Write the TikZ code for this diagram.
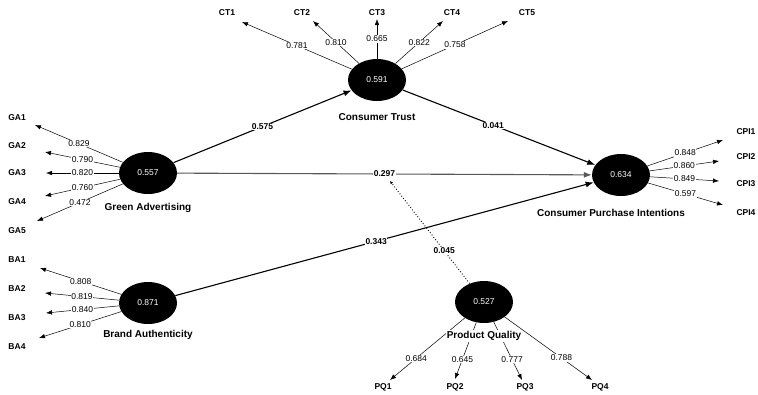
\documentclass[tikz,border=0pt]{standalone}
\usepackage{fontspec}
\setmainfont{Liberation Sans}
\usetikzlibrary{arrows.meta,shapes.geometric}
\begin{document}
\begin{tikzpicture}[x=1pt,y=-1pt,
 lv/.style={ellipse, fill=black, minimum width=58pt, minimum height=42pt, inner sep=0pt, text=white, font=\fontsize{8.5}{10}\selectfont},
 cname/.style={fill=white, inner sep=1pt, font=\bfseries\fontsize{10}{12}\selectfont},
 ind/.style={font=\bfseries\fontsize{8.5}{10}\selectfont},
 load/.style={draw=black, line width=0.5pt, -{Latex[length=6pt,width=4.5pt]}},
 ll/.style={fill=white, inner sep=0.6pt, font=\fontsize{8.5}{10}\selectfont},
 spath/.style={line width=1.1pt, -{Latex[length=8pt,width=6pt]}},
 pl/.style={fill=white, inner sep=0.6pt, font=\bfseries\fontsize{8.5}{10}\selectfont},
]
\clip (0,0) rectangle (758,394);
\fill[white] (0,0) rectangle (758,394);

% latent variables
\node[lv] (GA) at (148,173) {0.557};
\node[lv] (CT) at (377,80) {0.591};
\node[lv] (CPI) at (621,175) {0.634};
\node[lv] (BA) at (148,303) {0.871};
\node[lv] (PQ) at (484,302) {0.527};

% indicator texts
\node[ind] (ga1) at (17,118) {GA1};
\node[ind] (ga2) at (17,146) {GA2};
\node[ind] (ga3) at (17,173) {GA3};
\node[ind] (ga4) at (17,202) {GA4};
\node[ind] (ga5) at (17,231) {GA5};
\node[ind] (ba1) at (17,260) {BA1};
\node[ind] (ba2) at (17,289) {BA2};
\node[ind] (ba3) at (17,318) {BA3};
\node[ind] (ba4) at (17,347) {BA4};
\node[ind] (ct1) at (227,13) {CT1};
\node[ind] (ct2) at (302,13) {CT2};
\node[ind] (ct3) at (377,13) {CT3};
\node[ind] (ct4) at (452,13) {CT4};
\node[ind] (ct5) at (527,13) {CT5};
\node[ind] (pq1) at (383,387) {PQ1};
\node[ind] (pq2) at (455,387) {PQ2};
\node[ind] (pq3) at (525,387) {PQ3};
\node[ind] (pq4) at (600,387) {PQ4};
\node[ind,anchor=west] (cpi1) at (733,132) {CPI1};
\node[ind,anchor=west] (cpi2) at (733,157) {CPI2};
\node[ind,anchor=west] (cpi3) at (733,184) {CPI3};
\node[ind,anchor=west] (cpi4) at (733,213) {CPI4};

% arrow tip coordinates
\coordinate (tga1) at (35,125);
\coordinate (tga2) at (45,152);
\coordinate (tga3) at (46,173);
\coordinate (tga4) at (45,196);
\coordinate (tga5) at (37,221);
\coordinate (tba1) at (40,268);
\coordinate (tba2) at (45,293);
\coordinate (tba3) at (46,313);
\coordinate (tba4) at (39,338);
\coordinate (tct1) at (242,22);
\coordinate (tct2) at (313,21);
\coordinate (tct3) at (377,19);
\coordinate (tct4) at (443,21);
\coordinate (tct5) at (508,21);
\coordinate (tcpi1) at (723,140);
\coordinate (tcpi2) at (719,161);
\coordinate (tcpi3) at (719,181);
\coordinate (tcpi4) at (723,205);
\coordinate (tpq1) at (390,380);
\coordinate (tpq2) at (455,379);
\coordinate (tpq3) at (522,380);
\coordinate (tpq4) at (592,380);
\coordinate (mod) at (390,181);

% loadings
\draw[load] (GA) -- node[ll,pos=0.5] {0.829} (tga1);
\draw[load] (GA) -- node[ll,pos=0.5] {0.790} (tga2);
\draw[load] (GA) -- node[ll,pos=0.5] {0.820} (tga3);
\draw[load] (GA) -- node[ll,pos=0.5] {0.760} (tga4);
\draw[load] (GA) -- node[ll,pos=0.5] {0.472} (tga5);
\draw[load] (BA) -- node[ll,pos=0.5] {0.808} (tba1);
\draw[load] (BA) -- node[ll,pos=0.5] {0.819} (tba2);
\draw[load] (BA) -- node[ll,pos=0.5] {0.840} (tba3);
\draw[load] (BA) -- node[ll,pos=0.5] {0.810} (tba4);
\draw[load] (CT) -- node[ll,pos=0.5] {0.781} (tct1);
\draw[load] (CT) -- node[ll,pos=0.5] {0.810} (tct2);
\draw[load] (CT) -- node[ll,pos=0.5] {0.665} (tct3);
\draw[load] (CT) -- node[ll,pos=0.5] {0.822} (tct4);
\draw[load] (CT) -- node[ll,pos=0.5] {0.758} (tct5);
\draw[load] (CPI) -- node[ll,pos=0.5] {0.848} (tcpi1);
\draw[load] (CPI) -- node[ll,pos=0.5] {0.860} (tcpi2);
\draw[load] (CPI) -- node[ll,pos=0.5] {0.849} (tcpi3);
\draw[load] (CPI) -- node[ll,pos=0.5] {0.597} (tcpi4);
\draw[load] (PQ) -- node[ll,pos=0.65] {0.684} (tpq1);
\draw[load] (PQ) -- node[ll,pos=0.65] {0.645} (tpq2);
\draw[load] (PQ) -- node[ll,pos=0.65] {0.777} (tpq3);
\draw[load] (PQ) -- node[ll,pos=0.65] {0.788} (tpq4);

% structural paths
\draw[spath] (GA) -- node[pl,pos=0.5] {0.575} (CT);
\draw[spath] (CT) -- node[pl,pos=0.47] {0.041} (CPI);
\draw[spath,draw=black!65] (GA) -- node[pl,pos=0.5,text=black] {0.297} (CPI);
\draw[spath] (BA) -- node[pl,pos=0.48] {0.343} (CPI);
\draw[dotted, line width=0.9pt, -{Latex[length=3pt,width=3pt]}] (PQ) -- node[pl,pos=0.32] {0.045} (mod);

% construct names
\node[cname] (nGA) at (148,208) {Green Advertising};
\node[cname] (nCT) at (377,117) {Consumer Trust};
\node[cname] (nCPI) at (611,213) {Consumer Purchase Intentions};
\node[cname] (nBA) at (148,335) {Brand Authenticity};
\node[cname] (nPQ) at (484,336) {Product Quality};
\end{tikzpicture}
\end{document}
